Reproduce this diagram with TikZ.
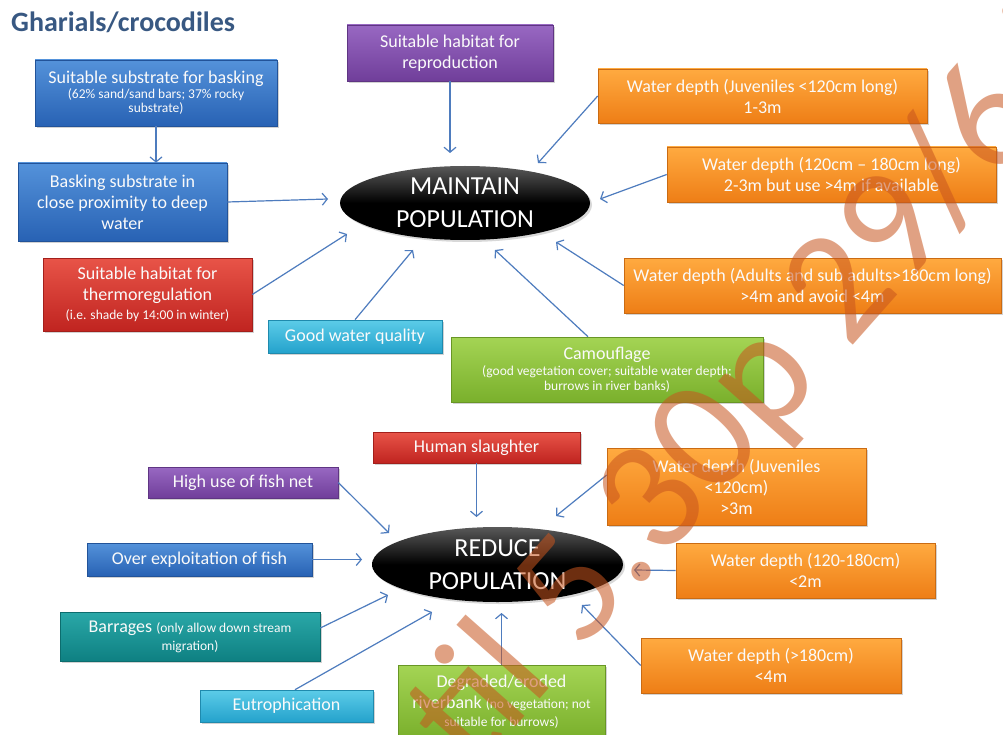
\documentclass[tikz,border=0pt]{standalone}
\usepackage{fontspec}
\setmainfont{Carlito}
\usetikzlibrary{arrows.meta,shadows,shapes.geometric}

% box colours: T = top of gradient, B = bottom
\definecolor{blueT}{RGB}{84,146,218}
\definecolor{blueB}{RGB}{40,98,180}
\definecolor{redT}{RGB}{232,84,72}
\definecolor{redB}{RGB}{192,36,32}
\definecolor{purpleT}{RGB}{152,104,194}
\definecolor{purpleB}{RGB}{112,62,154}
\definecolor{cyanT}{RGB}{92,204,232}
\definecolor{cyanB}{RGB}{36,162,204}
\definecolor{greenT}{RGB}{164,212,84}
\definecolor{greenB}{RGB}{122,176,44}
\definecolor{orangeT}{RGB}{255,170,64}
\definecolor{orangeB}{RGB}{238,126,22}
\definecolor{tealT}{RGB}{42,168,168}
\definecolor{tealB}{RGB}{14,128,130}
\definecolor{arrowc}{RGB}{78,124,190}
\definecolor{titlec}{RGB}{56,88,130}
\definecolor{wmark}{RGB}{200,85,30}
\definecolor{boxtext}{RGB}{250,250,250}

\newcommand{\bigt}{\fontsize{18}{21}\selectfont}
\newcommand{\smallt}{\fontsize{13.5}{15}\selectfont}

\tikzset{
  box/.style={rectangle, inner sep=2pt, align=center, text=boxtext, font=\bigt,
    top color=#1T, bottom color=#1B, draw=#1B!85!black, line width=0.6pt,
    drop shadow={shadow xshift=2pt, shadow yshift=-2pt, opacity=0.35}},
  ell/.style={ellipse, inner sep=0pt, align=center, text=white,
    font=\fontsize{26}{33}\selectfont,
    top color=black!65, bottom color=black, middle color=black,
    drop shadow={shadow xshift=2pt, shadow yshift=-2pt, opacity=0.3}},
  arr/.style={draw=arrowc, line width=1.2pt,
    -{Straight Barb[length=5pt,width=12pt]}},
}

\begin{document}
\begin{tikzpicture}[x=1pt,y=-1pt]
\useasboundingbox (0,0) rectangle (1003,735);
\fill[white] (0,0) rectangle (1003,735);

\node[anchor=base west, inner sep=0, text=titlec,
  font=\fontsize{28}{30}\selectfont\bfseries] (title) at (11,32) {Gharials/crocodiles};

% ---- factors that maintain the population ----
\node[box=blue, minimum width=242, minimum height=66, font=\smallt] (b1) at (156,93)
  {{\bigt Suitable substrate for basking}\\[0pt](62\% sand/sand bars; 37\% rocky\\[-1pt]substrate)};
\node[box=blue, minimum width=209, minimum height=78] (b2) at (122.5,202)
  {Basking substrate in\\close proximity to deep\\water};
\node[box=red, minimum width=209, minimum height=73] (b3) at (147.5,294.5)
  {Suitable habitat for\\thermoregulation\\[-2pt]{\smallt (i.e. shade by 14:00 in winter)}};
\node[box=cyan, minimum width=174, minimum height=33] (b4) at (355,336.5)
  {Good water quality};
\node[box=green, minimum width=312, minimum height=65, font=\smallt] (b5) at (607,369.5)
  {{\bigt Camouflage}\\[1pt](good vegetation cover; suitable water depth;\\burrows in river banks)};
\node[box=purple, minimum width=206, minimum height=56] (b6) at (450,53)
  {Suitable habitat for\\reproduction};
\node[box=orange, minimum width=329, minimum height=54] (b7) at (762.5,96)
  {Water depth (Juveniles <120cm long)\\1-3m};
\node[box=orange, minimum width=329, minimum height=55] (b8) at (831.5,174.5)
  {Water depth (120cm – 180cm long)\\2-3m but use >4m if available};
\node[box=orange, minimum width=377, minimum height=55] (b9) at (812.5,285.5)
  {Water depth (Adults and sub adults>180cm long)\\>4m and avoid <4m};
\node[ell, minimum width=250, minimum height=74] (M) at (465,203) {MAINTAIN\\POPULATION};

% ---- factors that reduce the population ----
\node[box=red, minimum width=207, minimum height=31] (c1) at (476.5,447.5)
  {Human slaughter};
\node[box=purple, minimum width=190, minimum height=31] (c2) at (243,482.5)
  {High use of fish net};
\node[box=blue, minimum width=225, minimum height=33] (c3) at (199.5,559.5)
  {Over exploitation of fish};
\node[box=teal, minimum width=260, minimum height=49] (c4) at (190,636.5)
  {Barrages {\smallt (only allow down stream}\\[-3pt]{\smallt migration)}};
\node[box=cyan, minimum width=173, minimum height=32] (c5) at (286.5,706)
  {Eutrophication};
\node[box=green, minimum width=207, minimum height=73] (c6) at (501.5,701.5)
  {Degraded/eroded\\riverbank {\smallt (no vegetation; not}\\[-3pt]{\smallt suitable for burrows)}};
\node[box=orange, minimum width=259, minimum height=77] (c7) at (736.5,486.5)
  {Water depth (Juveniles\\<120cm)\\>3m};
\node[box=orange, minimum width=259, minimum height=55] (c8) at (805.5,570.5)
  {Water depth (120-180cm)\\<2m};
\node[box=orange, minimum width=260, minimum height=55] (c9) at (771,665.5)
  {Water depth (>180cm)\\<4m};
\node[ell, minimum width=251, minimum height=75] (R) at (497.5,564.5) {REDUCE\\POPULATION};

% ---- connectors ----
\draw[arr] (b1.south) -- (b1.south |- b2.north);
\draw[arr] (b2.east) -- ([shift={(-137,-4)}]M.center);
\draw[arr] (b3.east) -- ([shift={(-118,31)}]M.center);
\draw[arr] (b4.north) -- ([shift={(-52,47)}]M.center);
\draw[arr] ([xshift=-19pt]b5.north) -- ([shift={(30,47)}]M.center);
\draw[arr] (b6.south) -- ([shift={(-15,-50)}]M.center);
\draw[arr] (b7.west) -- ([shift={(73,-40)}]M.center);
\draw[arr] (b8.west) -- ([shift={(135,-4)}]M.center);
\draw[arr] (b9.west) -- ([shift={(91,39)}]M.center);

\draw[arr] (c1.south) -- ([shift={(-21,-47.5)}]R.center);
\draw[arr] (c2.east) -- ([shift={(-108.5,-31.5)}]R.center);
\draw[arr] (c3.east) -- ([shift={(-135.5,-5)}]R.center);
\draw[arr] ([yshift=8.5pt]c4.east) -- ([shift={(-109.5,30.5)}]R.center);
\draw[arr] ([xshift=8.5pt]c5.north) -- ([shift={(-65.5,47.5)}]R.center);
\draw[arr] (c6.north) -- ([shift={(4,48.5)}]R.center);
\draw[arr] ([yshift=11.5pt]c7.west) -- ([shift={(58.5,-48.5)}]R.center);
\draw[arr] (c8.west) -- ([shift={(136.5,5.5)}]R.center);
\draw[arr] (c9.west) -- ([shift={(84.5,40.5)}]R.center);

% ---- translucent watermark across the page ----
\begin{scope}
\clip (0,0) rectangle (1003,735);
\node[anchor=base west, rotate=48.5, inner sep=0, text=wmark, opacity=0.55,
  font=\fontsize{160}{160}\selectfont] (wm) at (363,899) {until 5.30p 29/6/2};
\end{scope}
\end{tikzpicture}
\end{document}
